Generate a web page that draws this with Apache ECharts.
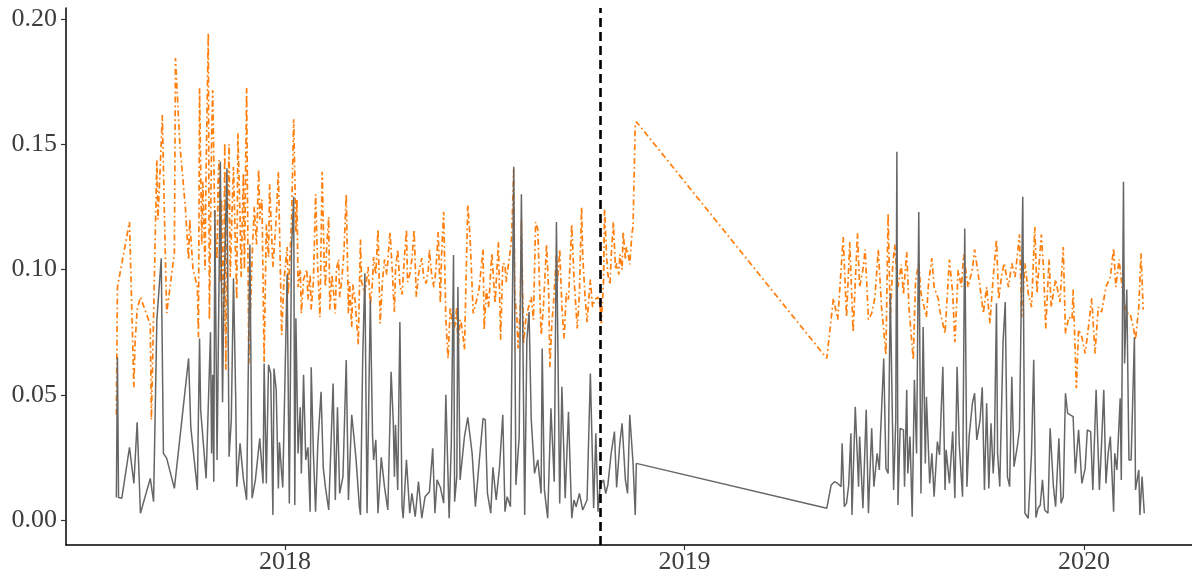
<!DOCTYPE html>
<html>
<head>
<meta charset="utf-8">
<title>Daily series, 2017–2020</title>
<script src="https://cdn.jsdelivr.net/npm/echarts@6/dist/echarts.min.js"></script>
<style>
  html, body { margin: 0; padding: 0; background: #ffffff; }
  #chart { width: 1192px; height: 576px; }
</style>
</head>
<body>
<div id="chart"></div>
<script>
// Observation days, counted from 2018-01-01
const greyDays = [
  -154,-153,-152,-149,-142,-138,-135,-132,-123,-120,-117,-113,-111,-108,-101,-88,-86,-80,-78,-77,
  -72,-68,-67,-66,-65,-64,-62,-59,-57,-56,-53,-51,-49,-47,-45,-44,-41,-38,-35,-32,
  -30,-27,-23,-20,-19,-17,-15,-13,-11,-10,-8,-6,-5,-3,-2,2,4,6,8,9,
  10,12,14,15,17,19,21,23,24,26,28,30,33,35,37,40,44,46,48,50,
  53,56,58,61,63,65,68,69,71,73,75,78,80,81,83,85,88,91,94,97,
  99,100,101,103,105,107,108,111,114,116,119,122,125,128,132,135,137,139,142,145,
  147,150,152,154,155,157,158,160,164,167,171,174,177,181,183,185,188,190,193,196,
  199,201,203,206,209,211,214,216,219,221,223,225,228,231,234,235,237,240,243,246,
  248,251,253,256,259,262,264,266,269,272,276,279,282,284,286,288,291,293,295,298,
  301,303,306,308,311,313,315,318,320,321,
  495,499,502,505,508,509,511,513,515,517,518,521,524,525,528,531,533,534,536,538,
  541,543,544,547,549,551,553,556,558,559,560,562,565,566,568,569,571,573,575,577,
  579,581,583,585,586,589,591,593,596,598,601,603,604,607,610,612,614,616,619,621,
  623,625,628,630,632,635,637,639,641,643,645,647,648,650,651,653,656,658,660,662,
  664,666,669,671,674,676,679,682,684,686,688,690,692,694,697,699,702,704,707,709,
  711,713,715,720,722,725,728,731,733,736,738,741,744,746,748,750,752,754,757,758,
  760,763,764,766,767,769,771,773,776,777,780,781,783,785
];
const greyValues = [
  0.009,0.065,0.009,0.0087,0.029,0.0146,0.039,0.0027,0.0166,0.0073,0.080,0.1045,0.0266,0.0246,0.0126,0.0645,0.037,0.012,0.0725,0.044,
  0.0166,0.075,0.0266,0.058,0.0153,0.1238,0.024,0.143,0.047,0.0825,0.1404,0.0253,0.040,0.0965,0.0492,0.0133,0.0306,0.0166,0.008,0.110,
  0.0087,0.016,0.0326,0.0146,0.0625,0.0146,0.062,0.0585,0.002,0.0605,0.052,0.0126,0.031,0.0186,0.013,0.098,0.0066,0.108,0.129,0.006,
  0.0805,0.0266,0.045,0.0186,0.058,0.024,0.029,0.0033,0.061,0.0266,0.0033,0.030,0.0512,0.021,0.013,0.004,0.0545,0.008,0.045,0.0106,
  0.0173,0.0639,0.008,0.042,0.0333,0.024,0.0053,0.002,0.064,0.0985,0.0027,0.088,0.034,0.024,0.032,0.0027,0.025,0.013,0.004,0.0592,
  0.0386,0.0173,0.038,0.012,0.079,0.0053,0.0007,0.024,0.0027,0.0106,0.0013,0.0153,0.0007,0.0093,0.0113,0.0286,0.0027,0.016,0.013,0.0067,
  0.050,0.0007,0.031,0.1058,0.0073,0.0173,0.093,0.016,0.0333,0.041,0.0266,0.0053,0.021,0.0406,0.040,0.0106,0.0027,0.021,0.008,0.021,
  0.042,0.0033,0.0093,0.0053,0.141,0.014,0.0333,0.130,0.002,0.0718,0.083,0.040,0.0186,0.024,0.0106,0.0685,0.012,0.0007,0.0446,0.0153,
  0.119,0.0066,0.0532,0.0087,0.0432,0.0007,0.008,0.0053,0.0106,0.004,0.008,0.0585,0.0047,0.0346,0.0033,0.014,0.016,0.0106,0.014,0.0266,
  0.0353,0.013,0.031,0.0386,0.016,0.0106,0.042,0.0226,0.002,0.0226,
  0.0047,0.014,0.0153,0.0146,0.0133,0.0306,0.0053,0.0067,0.014,0.0346,0.002,0.0452,0.0133,0.0333,0.0047,0.044,0.0027,0.002,0.0366,0.0133,
  0.0266,0.020,0.0333,0.0645,0.0206,0.0186,0.0905,0.012,0.040,0.147,0.006,0.0366,0.036,0.0133,0.052,0.0186,0.0333,0.0013,0.056,0.0266,
  0.123,0.0106,0.077,0.0226,0.0492,0.0146,0.0266,0.0093,0.0313,0.026,0.0612,0.012,0.028,0.0146,0.0353,0.0087,0.0612,0.030,0.0093,0.1164,
  0.0133,0.0333,0.0466,0.0506,0.032,0.040,0.053,0.012,0.0466,0.0126,0.0386,0.0186,0.0266,0.0865,0.0266,0.0133,0.071,0.087,0.0173,0.0133,
  0.0572,0.0213,0.0293,0.036,0.129,0.0027,0.0007,0.0266,0.064,0.001,0.0047,0.006,0.016,0.004,0.0027,0.0366,0.0133,0.0053,0.0326,0.0067,
  0.0093,0.0506,0.0426,0.0413,0.0186,0.036,0.0146,0.0206,0.036,0.0353,0.012,0.052,0.012,0.0306,0.052,0.0146,0.0266,0.0333,0.0033,0.0266,
  0.020,0.0486,0.016,0.135,0.0625,0.092,0.024,0.024,0.073,0.012,0.020,0.002,0.0173,0.0027
];

const orangeDays = [
  -154,-153,-142,-138,-137,-135,-132,-123,-122,-117,-116,-114,-112,-110,-108,-101,-100,-96,-91,-88,
  -87,-84,-80,-79,-78,-76,-75,-73,-72,-70,-69,-67,-66,-64,-62,-61,-60,-59,-58,-56,
  -55,-54,-53,-51,-50,-48,-47,-45,-44,-43,-41,-40,-38,-37,-35,-33,-30,-28,-26,-24,
  -23,-21,-19,-17,-15,-14,-12,-11,-8,-6,-3,-1,2,3,5,6,8,10,11,12,
  14,15,17,20,21,23,24,26,28,30,32,34,36,37,38,40,41,43,46,47,
  49,50,52,54,56,58,59,61,62,64,67,69,70,73,76,78,80,81,83,85,
  87,89,91,93,96,98,100,101,103,105,107,109,111,112,114,116,118,120,122,125,
  127,129,131,132,134,136,138,140,142,143,145,147,149,151,153,155,157,158,160,161,
  163,164,167,169,172,174,177,178,181,182,184,186,189,192,195,197,199,201,202,206,
  207,209,210,212,213,215,216,218,220,222,225,227,229,231,234,236,239,241,242,244,
  245,248,249,251,253,255,257,259,262,264,267,269,271,272,274,276,279,281,283,286,
  288,289,291,292,294,295,297,298,300,302,303,305,306,308,309,311,312,314,315,317,
  318,320,321,
  495,501,505,510,513,516,519,523,525,528,530,533,536,539,542,545,549,551,553,555,
  557,560,563,565,568,570,574,576,579,581,586,588,591,593,597,598,603,607,610,612,
  615,618,620,624,628,630,635,638,641,644,647,650,652,655,657,661,664,667,671,673,
  676,679,682,685,687,691,693,695,698,700,704,708,711,713,716,719,720,723,725,728,
  731,734,737,740,743,746,750,754,757,759,762,766,769,772,775,777,780,782,784
];
const orangeValues = [
  0.042,0.093,0.119,0.053,0.070,0.084,0.089,0.078,0.040,0.1437,0.120,0.140,0.1617,0.120,0.0826,0.1066,0.1844,0.150,0.125,0.1038,
  0.120,0.100,0.093,0.073,0.1725,0.110,0.135,0.100,0.140,0.1944,0.080,0.152,0.1717,0.117,0.104,0.137,0.1437,0.095,0.128,0.075,
  0.1505,0.060,0.110,0.150,0.097,0.128,0.141,0.104,0.088,0.1545,0.121,0.097,0.1384,0.100,0.1725,0.0625,0.105,0.125,0.110,0.140,
  0.120,0.128,0.063,0.118,0.105,0.134,0.112,0.101,0.120,0.139,0.074,0.095,0.109,0.090,0.109,0.120,0.160,0.115,0.128,0.093,
  0.100,0.0825,0.096,0.100,0.088,0.098,0.084,0.095,0.130,0.100,0.081,0.139,0.100,0.093,0.108,0.121,0.084,0.098,0.0825,0.100,
  0.104,0.089,0.096,0.108,0.130,0.0825,0.095,0.077,0.094,0.088,0.070,0.112,0.095,0.090,0.101,0.086,0.095,0.105,0.098,0.116,
  0.0785,0.095,0.104,0.098,0.115,0.100,0.083,0.100,0.108,0.094,0.090,0.104,0.116,0.095,0.098,0.104,0.116,0.089,0.098,0.1045,
  0.096,0.0945,0.100,0.108,0.098,0.093,0.100,0.115,0.0865,0.105,0.123,0.080,0.0645,0.085,0.078,0.077,0.085,0.068,0.080,0.079,
  0.072,0.068,0.1257,0.114,0.0825,0.086,0.091,0.095,0.108,0.076,0.092,0.085,0.1065,0.0865,0.111,0.072,0.1025,0.102,0.095,0.108,
  0.112,0.140,0.090,0.080,0.0685,0.085,0.120,0.0705,0.080,0.084,0.089,0.080,0.119,0.116,0.074,0.084,0.110,0.090,0.061,0.080,
  0.084,0.106,0.095,0.108,0.085,0.0725,0.0905,0.088,0.118,0.097,0.0765,0.090,0.125,0.106,0.090,0.079,0.096,0.085,0.088,0.089,
  0.085,0.0785,0.095,0.124,0.104,0.098,0.094,0.105,0.119,0.100,0.1025,0.098,0.106,0.100,0.115,0.104,0.109,0.105,0.102,0.1145,
  0.117,0.158,0.159,
  0.0645,0.0885,0.080,0.113,0.081,0.111,0.075,0.1145,0.093,0.100,0.108,0.080,0.0825,0.089,0.108,0.085,0.066,0.1224,0.080,0.100,
  0.110,0.093,0.102,0.090,0.107,0.085,0.064,0.095,0.103,0.0905,0.081,0.095,0.1045,0.093,0.088,0.084,0.0745,0.104,0.0905,0.071,
  0.0998,0.093,0.106,0.093,0.100,0.108,0.093,0.0825,0.093,0.0785,0.097,0.112,0.088,0.0985,0.1025,0.093,0.1025,0.097,0.114,0.081,
  0.1025,0.0905,0.085,0.117,0.0905,0.114,0.100,0.0765,0.104,0.085,0.096,0.087,0.109,0.0745,0.081,0.080,0.092,0.0526,0.076,0.073,
  0.0665,0.077,0.0885,0.0665,0.085,0.083,0.093,0.097,0.1085,0.093,0.104,0.088,0.0825,0.0825,0.077,0.072,0.085,0.1065,0.084
];

// Axis labels and the marked date
const yearTicks = [2018, 2019, 2020];
const yTicks = [0.00, 0.05, 0.10, 0.15, 0.20];
const markerDay = 288;           // 2018-10-15
const axisStartDay = -200;       // 2017-06-15
const axisEndDay = 828.6;

const DAY_MS = 86400000;
const EPOCH = Date.UTC(2018, 0, 1);
const yearToDay = y => (Date.UTC(y, 0, 1) - EPOCH) / DAY_MS;
const dayToYear = d => new Date(EPOCH + d * DAY_MS).getUTCFullYear();
const pairs = (days, vals) => days.map((d, i) => [d, vals[i]]);

const FONT = 'Liberation Serif';
const chart = echarts.init(document.getElementById('chart'), null, { renderer: 'canvas' });

chart.setOption({
  animation: false,
  backgroundColor: '#ffffff',
  grid: { left: 66, right: 0, top: 8, bottom: 31, containLabel: false, outerBoundsMode: 'none' },
  xAxis: {
    type: 'value',
    min: axisStartDay,
    max: axisEndDay,
    splitLine: { show: false },
    axisLine: { show: true, onZero: false, lineStyle: { color: '#000000', width: 1.5 } },
    axisTick: {
      show: true, length: 5, inside: false,
      customValues: yearTicks.map(yearToDay),
      lineStyle: { color: '#333333', width: 1.2 }
    },
    axisLabel: {
      customValues: yearTicks.map(yearToDay),
      formatter: v => String(dayToYear(v)),
      fontFamily: FONT, fontSize: 26, color: '#3d3d3d', margin: 4
    }
  },
  yAxis: {
    type: 'value',
    min: -0.00998,
    max: 0.2044,
    splitLine: { show: false },
    axisLine: { show: true, onZero: false, lineStyle: { color: '#000000', width: 1.5 } },
    axisTick: {
      show: true, length: 5, inside: false,
      customValues: yTicks,
      lineStyle: { color: '#333333', width: 1.2 }
    },
    axisLabel: {
      customValues: yTicks,
      formatter: v => v.toFixed(2),
      fontFamily: FONT, fontSize: 26, color: '#3d3d3d', margin: 9
    }
  },
  series: [
    {
      name: 'orange',
      type: 'line',
      data: pairs(orangeDays, orangeValues),
      showSymbol: false,
      symbol: 'none',
      lineStyle: { color: '#FF7F0E', width: 1.7, type: [6, 3, 1.8, 3] },
      emphasis: { disabled: true },
      z: 2
    },
    {
      name: 'grey',
      type: 'line',
      data: pairs(greyDays, greyValues),
      showSymbol: false,
      symbol: 'none',
      lineStyle: { color: '#666666', width: 1.5 },
      emphasis: { disabled: true },
      z: 3,
      markLine: {
        silent: true,
        symbol: ['none', 'none'],
        label: { show: false },
        lineStyle: { color: '#000000', width: 2.6, type: [9, 5] },
        data: [{ xAxis: markerDay }]
      }
    }
  ]
});
</script>
</body>
</html>
